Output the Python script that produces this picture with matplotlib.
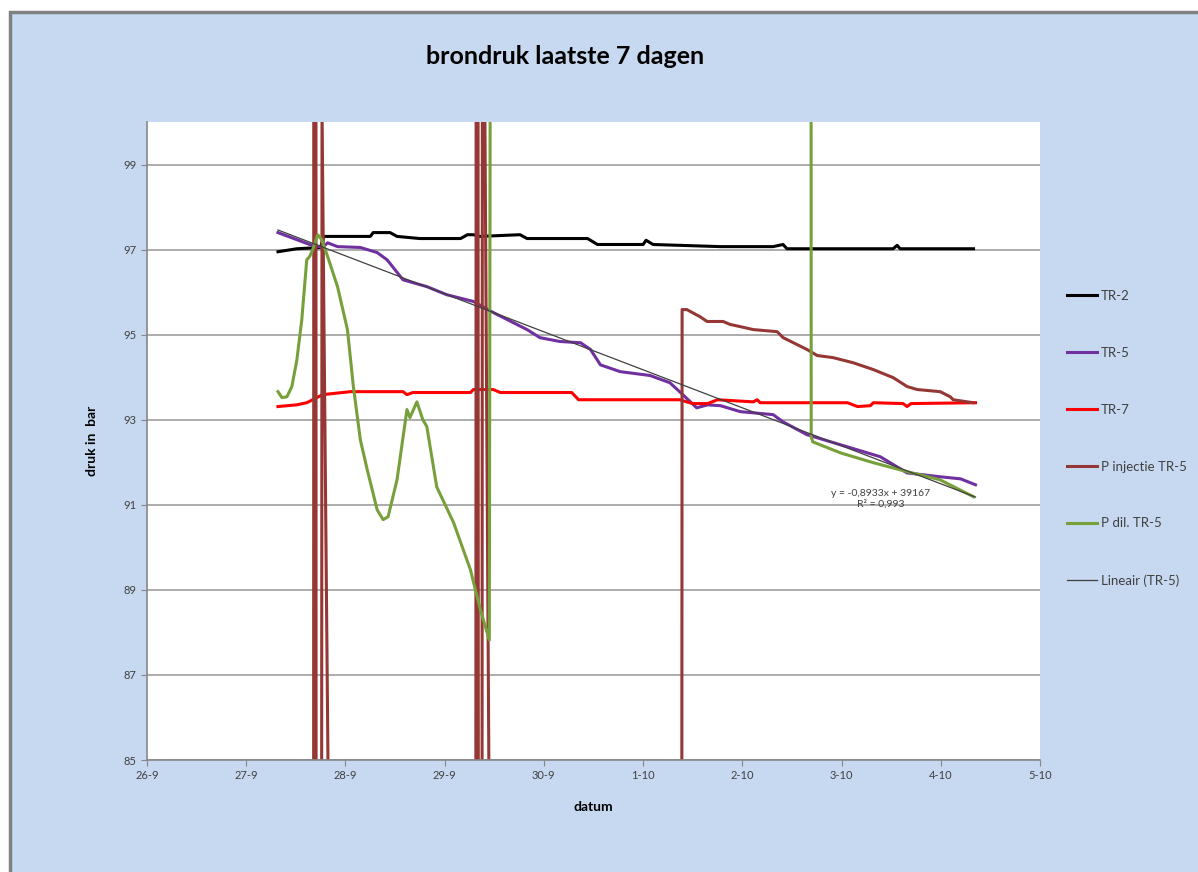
import numpy as np
import matplotlib
matplotlib.use("Agg")
from matplotlib import pyplot as plt
from matplotlib.patches import Rectangle

# x in days from 26-9
date_labels = ["26-9", "27-9", "28-9", "29-9", "30-9", "1-10", "2-10", "3-10", "4-10", "5-10"]

tr2_t = [1.32, 1.51, 1.75, 1.78, 2.25, 2.28, 2.45, 2.52, 2.75, 3.16, 3.23, 3.29, 3.35, 3.76, 3.83,
         4.44, 4.54, 5.00, 5.03, 5.10, 5.78, 6.31, 6.41, 6.45, 7.52, 7.56, 7.59, 8.33]
tr2_p = [96.95, 97.02, 97.05, 97.31, 97.31, 97.40, 97.40, 97.31, 97.26, 97.26, 97.35, 97.35, 97.31, 97.35, 97.26,
         97.26, 97.12, 97.12, 97.22, 97.12, 97.07, 97.07, 97.12, 97.02, 97.02, 97.10, 97.02, 97.02]

tr5_t = [1.32, 1.64, 1.77, 1.82, 1.92, 2.15, 2.32, 2.42, 2.58, 2.82, 3.02, 3.29, 3.49, 3.83, 3.96, 4.16,
         4.37, 4.47, 4.57, 4.77, 5.07, 5.27, 5.40, 5.54, 5.65, 5.78, 5.98, 6.31, 6.41, 6.65, 6.92, 7.39,
         7.66, 7.99, 8.20, 8.35]
tr5_p = [97.40, 97.12, 97.05, 97.16, 97.07, 97.05, 96.93, 96.76, 96.29, 96.13, 95.94, 95.78, 95.52, 95.12, 94.93, 94.84,
         94.81, 94.65, 94.29, 94.13, 94.04, 93.87, 93.59, 93.28, 93.35, 93.33, 93.19, 93.12, 92.95, 92.65, 92.46, 92.13,
         91.75, 91.66, 91.61, 91.47]

tr7_t = [1.32, 1.51, 1.61, 1.67, 1.77, 2.05, 2.58, 2.62, 2.68, 3.26, 3.29, 3.49, 3.56, 4.28, 4.35, 5.37,
         5.44, 5.50, 5.65, 5.75, 6.11, 6.15, 6.18, 7.06, 7.16, 7.29, 7.32, 7.62, 7.66, 7.70, 8.35]
tr7_p = [93.31, 93.35, 93.40, 93.47, 93.59, 93.66, 93.66, 93.59, 93.64, 93.64, 93.71, 93.71, 93.64, 93.64, 93.47, 93.47,
         93.42, 93.38, 93.38, 93.47, 93.42, 93.47, 93.40, 93.40, 93.31, 93.33, 93.40, 93.38, 93.31, 93.38, 93.40]

inj_t = [1.30, 1.673, 1.683, 1.700, 1.712, 1.740, 1.764, 1.825, 1.84, 3.30, 3.322, 3.332, 3.352, 3.362,
         3.385, 3.405, 3.446, 3.46, 5.37, 5.393, 5.44, 5.575, 5.645, 5.806, 5.877, 5.978, 6.109, 6.351,
         6.411, 6.653, 6.754, 6.915, 7.117, 7.319, 7.520, 7.661, 7.762, 7.994, 8.095, 8.125, 8.327]
inj_p = [0, 0, 130, 130, 0, 0, 100.3, 84.7, 0, 0, 130, 130, 0, 0,
         130, 100.3, 84.7, 0, 0, 95.59, 95.59, 95.42, 95.31, 95.31, 95.24, 95.19, 95.12, 95.07,
         94.93, 94.65, 94.51, 94.46, 94.34, 94.18, 93.99, 93.78, 93.71, 93.66, 93.54, 93.47, 93.40]

dil_t = [1.32, 1.36, 1.41, 1.46, 1.51, 1.56, 1.61, 1.64, 1.67, 1.72, 1.76, 1.82, 1.92, 2.02, 2.08, 2.15,
         2.22, 2.32, 2.38, 2.43, 2.52, 2.62, 2.65, 2.72, 2.78, 2.82, 2.92, 3.09, 3.26, 3.36, 3.45, 3.478,
         6.69, 6.694, 6.71, 6.99, 7.32, 7.66, 7.99, 8.33]
dil_p = [93.66, 93.52, 93.54, 93.78, 94.40, 95.35, 96.76, 96.84, 97.00, 97.35, 97.24, 96.84, 96.13, 95.12, 93.78, 92.53,
         91.82, 90.88, 90.65, 90.72, 91.59, 93.24, 93.05, 93.42, 93.00, 92.84, 91.42, 90.58, 89.47, 88.53, 87.82, 130,
         130, 92.60, 92.48, 92.22, 91.99, 91.78, 91.59, 91.19]

slope = -0.8933
trend_label = "y = -0,8933x + 39167\nR² = 0,993"

tr5_t = np.array(tr5_t)
tr5_p = np.array(tr5_p)
icpt = np.mean(tr5_p - slope * tr5_t)
trend_t = np.array([tr5_t[0], tr5_t[-1]])
trend_p = icpt + slope * trend_t

plt.rcParams['font.family'] = ['Lato', 'DejaVu Sans']

fig = plt.figure(figsize=(11.98, 8.72), dpi=100)
fig.patch.set_facecolor("white")
fig.patches.append(Rectangle((10/1198, -0.05), 1.1, 1 - 12/872 + 0.05, transform=fig.transFigure,
                             facecolor="#C6D9F0", edgecolor="#808080", linewidth=2.5, zorder=-10))

ax = fig.add_axes([147/1198, 112/872, 893/1198, 638/872])
ax.set_facecolor("white")

lw = 2.2
ax.plot(tr2_t, tr2_p, color="black", lw=lw, label="TR-2")
ax.plot(tr5_t, tr5_p, color="#7030A0", lw=lw, label="TR-5")
ax.plot(tr7_t, tr7_p, color="#FF0000", lw=lw, label="TR-7")
ax.plot(inj_t, inj_p, color="#953735", lw=lw, label="P injectie TR-5")
ax.plot(dil_t, dil_p, color="#77A03A", lw=lw, label="P dil. TR-5")
ax.plot(trend_t, trend_p, color="#404040", lw=0.9, label="Lineair (TR-5)")

ax.set_xlim(0, 9)
ax.set_ylim(85, 100)
ax.set_xticks(range(10))
ax.set_xticklabels(date_labels)
ax.set_yticks(range(85, 100, 2))
ax.yaxis.grid(True, color="#A6A6A6", lw=1.3)
ax.set_axisbelow(True)
for s in ["top", "right"]:
    ax.spines[s].set_visible(False)
for s in ["left", "bottom"]:
    ax.spines[s].set_color("#868686")
    ax.spines[s].set_linewidth(1.2)
ax.tick_params(direction="out", length=4, color="#868686", labelsize=8, labelcolor="#404040")

ax.set_xlabel("datum", fontsize=10, fontweight="bold", labelpad=14)
ax.set_ylabel("druk in  bar", fontsize=10, fontweight="bold", labelpad=18)

ax.text(7.39, 91.13, trend_label, fontsize=7.5, color="#404040", ha="center", va="center",
        transform=ax.transData)

fig.text(565/1198, 1 - 57/872, "brondruk laatste 7 dagen", fontsize=18, fontweight="bold",
         ha="center", va="center")

fig.legend(loc="upper left", bbox_to_anchor=(1067/1198, 1 - 290/872), frameon=False,
           borderpad=0, borderaxespad=0, fontsize=9.5, labelspacing=3.4, handlelength=2.3,
           handletextpad=0.25, labelcolor="#404040")

fig.savefig("out.png", dpi=100)
